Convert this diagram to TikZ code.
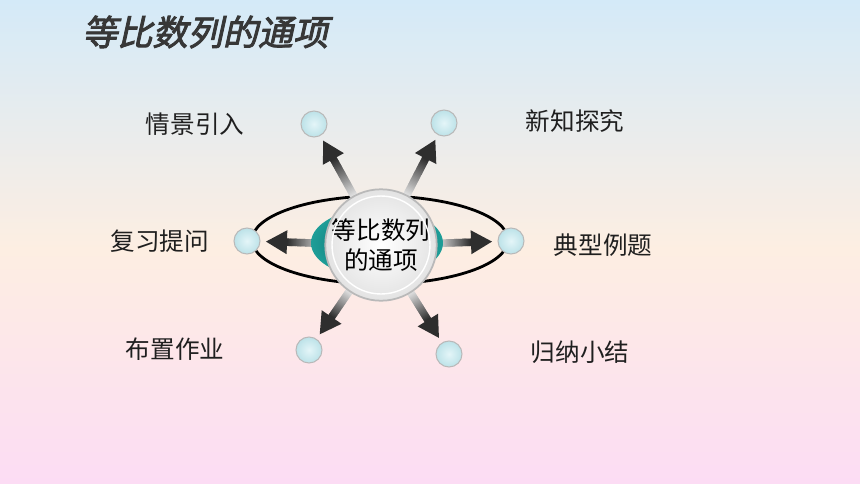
\documentclass[tikz,border=0pt]{standalone}
\usepackage{fontspec}
\newfontfamily\cjk{Noto Sans CJK SC}
\newfontfamily\cjktitle{Noto Sans CJK SC}[FakeSlant=0.22,FakeBold=2.5]
\usetikzlibrary{calc}

\definecolor{skytop}{RGB}{212,234,248}
\definecolor{peachmid}{RGB}{253,238,226}
\definecolor{pinkbot}{RGB}{252,220,244}
\definecolor{ballin}{RGB}{228,245,248}
\definecolor{ballout}{RGB}{188,226,232}
\definecolor{tealin}{RGB}{6,88,92}
\definecolor{tealout}{RGB}{30,158,152}
\definecolor{titlegray}{RGB}{55,55,55}

% arrow from the centre node #1 towards the ball #2, fading at its tail
\newcommand\fadearrow[2]{
  \coordinate (tail) at ($(#1)!1.12cm!(#2)$);
  \coordinate (tip) at ($(#2)!0.38cm!(#1)$);
  \coordinate (neck) at ($(tip)!0.42cm!(#1)$);
  \foreach \i in {0,...,29} {
    \pgfmathsetmacro\ta{\i/30}
    \pgfmathsetmacro\tb{(\i+1.6)/30}
    \pgfmathsetmacro\k{12+\i*2.4}
    \draw[line width=0.15cm, black!\k] ($(tail)!\ta!(neck)$) -- ($(tail)!\tb!(neck)$);
  }
  \fill[black!82] (tip) -- ($(neck)!0.24cm!90:(tip)$) -- ($(neck)!0.24cm!-90:(tip)$) -- cycle;
}

\begin{document}
\begin{tikzpicture}[x=0.02cm, y=-0.02cm,
  ball/.style={circle, draw=gray!55, line width=0.6pt, inner color=ballin, outer color=ballout, minimum size=0.52cm, inner sep=0pt},
  itemtext/.style={font=\cjk\fontsize{14}{16}\selectfont, text=black!88}]

  % Background
  \useasboundingbox (0,0) rectangle (860,484);
  \shade[top color=skytop, bottom color=peachmid] (0,0) rectangle (860,250);
  \shade[top color=peachmid, bottom color=pinkbot] (0,249.5) rectangle (860,484);

  % Title
  \node[anchor=west, font=\cjktitle\fontsize{20}{24}\selectfont, text=titlegray] (title) at (76,32) {等比数列的通项};

  % Orbit
  \draw[line width=1.6pt] (380,240) ellipse [x radius=2.56cm, y radius=0.88cm];

  % Centre and the six balls
  \coordinate (topic) at (381,245);
  \node[ball] (b1) at (314,124) {};
  \node[ball] (b2) at (444,123) {};
  \node[ball] (b3) at (247,241) {};
  \node[ball] (b4) at (511,241) {};
  \node[ball] (b5) at (309,350) {};
  \node[ball] (b6) at (449,354) {};

  % Arrows
  \fadearrow{topic}{b1}
  \fadearrow{topic}{b2}
  \fadearrow{topic}{b3}
  \fadearrow{topic}{b4}
  \fadearrow{topic}{b5}
  \fadearrow{topic}{b6}

  % Teal disc behind the centre
  \shade[inner color=tealin, outer color=tealout] (377,243) ellipse [x radius=1.32cm, y radius=0.7cm];

  % Centre circle
  \node[circle, draw=gray!55, line width=1pt, inner color=white, outer color=gray!22, minimum size=2.08cm, align=center, inner sep=0pt,
        font=\cjk\fontsize{14}{17}\selectfont] (centre) at (topic) {等比数列\\的通项};
  \draw[white, line width=0.8pt] (topic) circle [radius=0.98cm];

  % Labels
  \node[itemtext] (t1) at (195,124) {情景引入};
  \node[itemtext] (t2) at (575,121) {新知探究};
  \node[itemtext] (t3) at (160,241) {复习提问};
  \node[itemtext] (t4) at (603,245) {典型例题};
  \node[itemtext] (t5) at (175,349) {布置作业};
  \node[itemtext] (t6) at (580,352) {归纳小结};

\end{tikzpicture}
\end{document}
